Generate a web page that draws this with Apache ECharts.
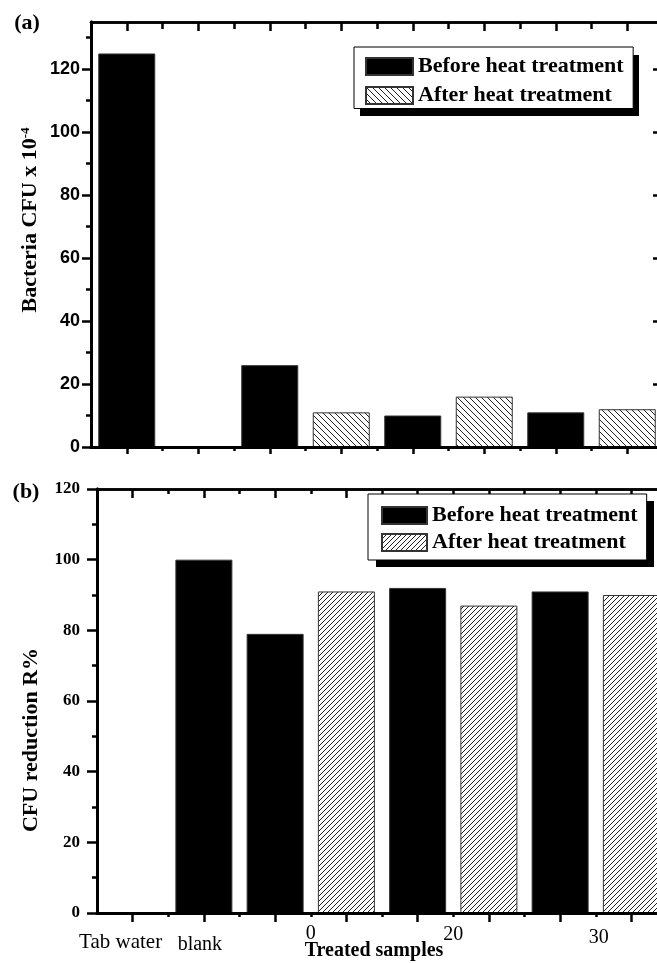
<!DOCTYPE html>
<html>
<head>
<meta charset="utf-8">
<script src="https://cdn.jsdelivr.net/npm/echarts@6/dist/echarts.min.js"></script>
<style>
html,body{margin:0;padding:0;background:#fff;overflow:hidden;width:657px;height:963px;}
#chart{width:672px;height:963px;}
</style>
</head>
<body>
<div id="chart"></div>
<script>
// ---- data ----
const categories = ['Tab water', 'blank', '0', '0', '20', '20', '30', '30'];
const treatment = ['Before heat treatment', 'Before heat treatment', 'Before heat treatment', 'After heat treatment',
                   'Before heat treatment', 'After heat treatment', 'Before heat treatment', 'After heat treatment'];
const seriesNames = ['Before heat treatment', 'After heat treatment'];
const cfuValues = [125, 0, 26, 11, 10, 16, 11, 12];          // panel (a), CFU x 10^-4
const reductionValues = [0, 100, 79, 91, 92, 87, 91, 90];     // panel (b), R%
const cfuTicks = [0, 20, 40, 60, 80, 100, 120];
const cfuMinorTicks = [10, 30, 50, 70, 90, 110, 130];
const reductionTicks = [0, 20, 40, 60, 80, 100, 120];
const reductionMinorTicks = [10, 30, 50, 70, 90, 110];

// ---- helpers ----
function hatch(dir, size) {
  const c = document.createElement('canvas');
  c.width = size; c.height = size;
  const ctx = c.getContext('2d');
  ctx.fillStyle = '#fff'; ctx.fillRect(0, 0, size, size);
  ctx.strokeStyle = '#222'; ctx.lineWidth = 1;
  ctx.beginPath();
  [-size, 0, size].forEach(k => {
    if (dir === '\\') { ctx.moveTo(k, 0); ctx.lineTo(k + size, size); }
    else { ctx.moveTo(k, size); ctx.lineTo(k + size, 0); }
  });
  ctx.stroke();
  return { image: c, repeat: 'repeat' };
}
const patA = hatch('\\', 6);
const patB = hatch('/', 5);

const centers = categories.map((_, i) => i);
const bounds = categories.slice(1).map((_, i) => i + 0.5);
// label positions: mean index of each distinct category
const labelMap = new Map();
[...new Set(categories)].forEach((lbl, k) => {
  const idx = categories.map((c, i) => c === lbl ? i : -1).filter(i => i >= 0);
  const pos = idx.reduce((a, b) => a + b, 0) / idx.length;
  labelMap.set(pos, { text: lbl, k: k });
});
const labelValues = [...labelMap.keys()];

const serif = "'Liberation Serif', 'Times New Roman', serif";
const sans = "'Liberation Sans', Arial, sans-serif";
const TICK_W = 2.5;

// per-label text styles (placement nudges as in the original figure)
const labelRich = {
  l0: { fontFamily: serif, fontSize: 21, color: '#000', padding: [8, 24, 0, 0] },
  l1: { fontFamily: serif, fontSize: 20, color: '#000', padding: [11, 8, 0, 0] },
  l2: { fontFamily: serif, fontSize: 20, color: '#000', padding: [0, 0, 0, 0] },
  l3: { fontFamily: serif, fontSize: 20, color: '#000', padding: [1, 0, 0, 0] },
  l4: { fontFamily: serif, fontSize: 20, color: '#000', padding: [4, 0, 0, 6] }
};

function xAx(grid, position, customTicks, len, inside, lineW, extra) {
  return Object.assign({
    gridIndex: grid, type: 'value', min: -0.5, max: 7.5, interval: 0.5,
    position: position, z: 5,
    splitLine: { show: false },
    axisLine: { show: true, onZero: false, lineStyle: { color: '#000', width: lineW } },
    axisTick: { show: true, inside: inside, length: len, customValues: customTicks,
                lineStyle: { color: '#000', width: TICK_W } },
    axisLabel: { show: false }
  }, extra || {});
}
function yAx(grid, position, max, customTicks, len, inside, extra) {
  return Object.assign({
    gridIndex: grid, type: 'value', min: 0, max: max, position: position, z: 5,
    splitLine: { show: false },
    axisLine: { show: true, onZero: false, lineStyle: { color: '#000', width: 3 } },
    axisTick: { show: true, inside: inside, length: len, customValues: customTicks,
                lineStyle: { color: '#000', width: TICK_W } },
    axisLabel: { show: false }
  }, extra || {});
}

const xAxes = [
  // grid 0
  xAx(0, 'bottom', centers, 7, false, 3),
  xAx(0, 'bottom', bounds, 4, false, 3),
  xAx(0, 'top', centers, 9, true, 2.5),
  xAx(0, 'top', bounds, 7, true, 2.5),
  // grid 1
  xAx(1, 'bottom', centers, 9, false, 3, {
    axisLabel: {
      show: true, customValues: labelValues, margin: 11,
      formatter: v => {
        const l = labelMap.get(v);
        return l ? '{l' + l.k + '|' + l.text + '}' : '';
      },
      rich: labelRich
    }
  }),
  xAx(1, 'bottom', bounds, 4, false, 3),
  xAx(1, 'top', centers, 9, true, 2.5),
  xAx(1, 'top', bounds, 5, true, 2.5)
];

const yAxes = [
  yAx(0, 'left', 135, cfuTicks, 9, false, {
    axisLabel: { show: true, customValues: cfuTicks, margin: 11, color: '#000',
                 fontFamily: sans, fontWeight: 'bold', fontSize: 18 }
  }),
  yAx(0, 'left', 135, cfuMinorTicks, 5, false),
  yAx(0, 'right', 135, cfuTicks, 10, true),
  yAx(0, 'right', 135, cfuMinorTicks, 5, true),
  yAx(1, 'left', 120, reductionTicks, 10, false, {
    axisLabel: { show: true, customValues: reductionTicks, margin: 17, color: '#000',
                 fontFamily: serif, fontWeight: 'bold', fontSize: 17 }
  }),
  yAx(1, 'left', 120, reductionMinorTicks, 5, false),
  yAx(1, 'right', 120, reductionTicks, 10, true),
  yAx(1, 'right', 120, reductionMinorTicks, 5, true)
];

function barSeries(values, name, xIdx, yIdx, color) {
  return {
    type: 'bar', name: name, xAxisIndex: xIdx, yAxisIndex: yIdx,
    barWidth: 57, barGap: '-100%', z: 2,
    itemStyle: { color: color, borderColor: '#333', borderWidth: 1 },
    data: values.map((v, i) => treatment[i] === name ? [i, v] : null).filter(d => d)
  };
}

const legendText = { fontFamily: serif, fontWeight: 'bold', fontSize: 22, color: '#000' };
const legendCommon = {
  orient: 'vertical', icon: 'rect', selectedMode: false, z: 6,
  backgroundColor: '#fff', borderColor: '#000', borderWidth: 1, textStyle: legendText
};

const option = {
  animation: false,
  backgroundColor: '#fff',
  grid: [
    { left: 91, top: 22, width: 572, height: 425 },
    { left: 97, top: 489, width: 570, height: 424 }
  ],
  xAxis: xAxes,
  yAxis: yAxes,
  legend: [
    Object.assign({}, legendCommon, {
      data: seriesNames, left: 354, top: 47, itemWidth: 47, itemHeight: 17, itemGap: 7,
      padding: [8.5, 9.5, 2, 11]
    }),
    Object.assign({}, legendCommon, {
      data: [{ name: seriesNames[0] }, { name: seriesNames[1], itemStyle: { color: patB } }],
      left: 368, top: 494, itemWidth: 45, itemHeight: 17, itemGap: 5,
      padding: [10.5, 9, 6.5, 13]
    })
  ],
  series: [
    barSeries(cfuValues, seriesNames[0], 0, 0, '#000'),
    barSeries(cfuValues, seriesNames[1], 0, 0, patA),
    barSeries(reductionValues, seriesNames[0], 4, 4, '#000'),
    barSeries(reductionValues, seriesNames[1], 4, 4, patB)
  ],
  graphic: [
    // legend drop shadows
    { type: 'rect', z: 3, shape: { x: 360, y: 55, width: 279, height: 61 }, style: { fill: '#000' } },
    { type: 'rect', z: 3, shape: { x: 376, y: 501, width: 278, height: 66 }, style: { fill: '#000' } },
    { type: 'text', x: 27, y: 23, style: { text: '(a)', font: 'bold 22px ' + serif, fill: '#000',
      align: 'center', verticalAlign: 'middle', textAlign: 'center', textVerticalAlign: 'middle' } },
    { type: 'text', x: 26, y: 492, style: { text: '(b)', font: 'bold 22px ' + serif, fill: '#000',
      align: 'center', verticalAlign: 'middle', textAlign: 'center', textVerticalAlign: 'middle' } },
    { type: 'text', x: 374, y: 951, style: { text: 'Treated samples', font: 'bold 20px ' + serif, fill: '#000',
      align: 'center', verticalAlign: 'middle', textAlign: 'center', textVerticalAlign: 'middle' } },
    { type: 'text', x: 30, y: 220, rotation: Math.PI / 2,
      style: { text: '{n|Bacteria CFU x 10}{s|-4}', fill: '#000',
        align: 'center', verticalAlign: 'middle', textAlign: 'center', textVerticalAlign: 'middle',
        rich: {
          n: { fontFamily: serif, fontWeight: 'bold', fontSize: 22, fill: '#000', color: '#000' },
          s: { fontFamily: serif, fontWeight: 'bold', fontSize: 13, fill: '#000', color: '#000', verticalAlign: 'top' }
        } } },
    { type: 'text', x: 31, y: 740, rotation: Math.PI / 2,
      style: { text: 'CFU reduction R%', font: 'bold 22px ' + serif, fill: '#000',
        align: 'center', verticalAlign: 'middle', textAlign: 'center', textVerticalAlign: 'middle' } }
  ]
};

const chart = echarts.init(document.getElementById('chart'), null, { renderer: 'canvas' });
chart.setOption(option);
</script>
</body>
</html>
